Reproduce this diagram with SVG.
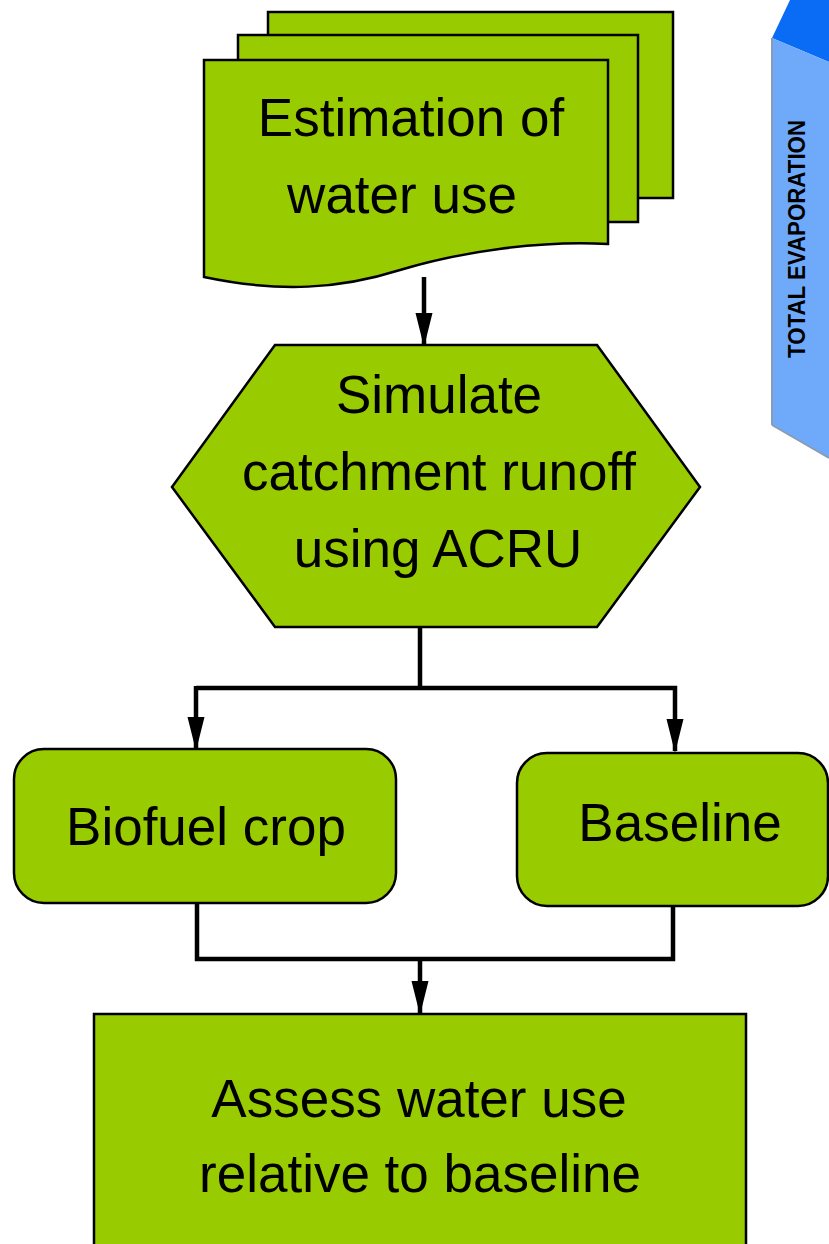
<svg xmlns="http://www.w3.org/2000/svg" width="829" height="1244" viewBox="0 0 829 1244">
<style>
.n{fill:#99cc00;stroke:#000;stroke-width:2.5}
.t{font-family:"Liberation Sans",Arial,sans-serif;font-size:53px;fill:#000;text-anchor:middle}
.c{fill:none;stroke:#000;stroke-width:4.5}
</style>
<defs>
<marker id="a" markerUnits="userSpaceOnUse" markerWidth="34" markerHeight="20" refX="32" refY="10" orient="auto" viewBox="0 0 34 20">
<path d="M0,1.5 L34,10 L0,18.5 Z" fill="#000"/>
</marker>
</defs>
<rect width="829" height="1244" fill="#fff"/>
<g id="evaporation">
<polygon points="772,38 790,0 829,0 829,62" fill="#0a6cf5"/>
<polygon points="772,38 829,62 829,458 772,425" fill="#6eaaf9"/>
<line x1="772" y1="38" x2="772" y2="425" stroke="#8a9cb5" stroke-width="2"/>
<line x1="772" y1="425" x2="829" y2="458" stroke="#8a9cb5" stroke-width="2"/>
<text transform="translate(805 239) rotate(-90)" font-family="'Liberation Sans',Arial,sans-serif" font-weight="bold" font-size="24" text-anchor="middle" textLength="238" lengthAdjust="spacingAndGlyphs">TOTAL EVAPORATION</text>
</g>
<g id="connectors">
<line class="c" x1="424" y1="277" x2="424" y2="345" marker-end="url(#a)"/>
<line class="c" x1="420" y1="627" x2="420" y2="688"/>
<polyline class="c" points="196,688 675,688 675,751" marker-end="url(#a)"/>
<line class="c" x1="196" y1="686" x2="196" y2="749" marker-end="url(#a)"/>
<polyline class="c" points="197,903 197,959 673,959 673,906"/>
<line class="c" x1="420" y1="959" x2="420" y2="1013" marker-end="url(#a)"/>
</g>
<g id="estimation">
<rect class="n" x="268" y="12" width="405" height="186"/>
<rect class="n" x="238" y="35" width="400" height="187"/>
<path class="n" d="M204,60 H608 V244 C 540,240 460,252 400,270 C 340,289 280,293 204,277 Z"/>
<text class="t" x="411" y="136">Estimation of</text>
<text class="t" x="402" y="213">water use</text>
</g>
<g id="simulate">
<polygon class="n" points="275,345 597,345 700,487 597,627 275,627 172,487"/>
<text class="t" x="439" y="413">Simulate</text>
<text class="t" x="439" y="490">catchment runoff</text>
<text class="t" x="438" y="567">using ACRU</text>
</g>
<g id="biofuel">
<rect class="n" x="14" y="749" width="382" height="154" rx="30"/>
<text class="t" x="206" y="845">Biofuel crop</text>
</g>
<g id="baseline">
<rect class="n" x="517" y="753" width="311" height="153" rx="30"/>
<text class="t" x="680" y="841">Baseline</text>
</g>
<g id="assess">
<rect class="n" x="94" y="1014" width="652" height="240"/>
<text class="t" x="419" y="1117">Assess water use</text>
<text class="t" x="420" y="1192">relative to baseline</text>
</g>
</svg>
